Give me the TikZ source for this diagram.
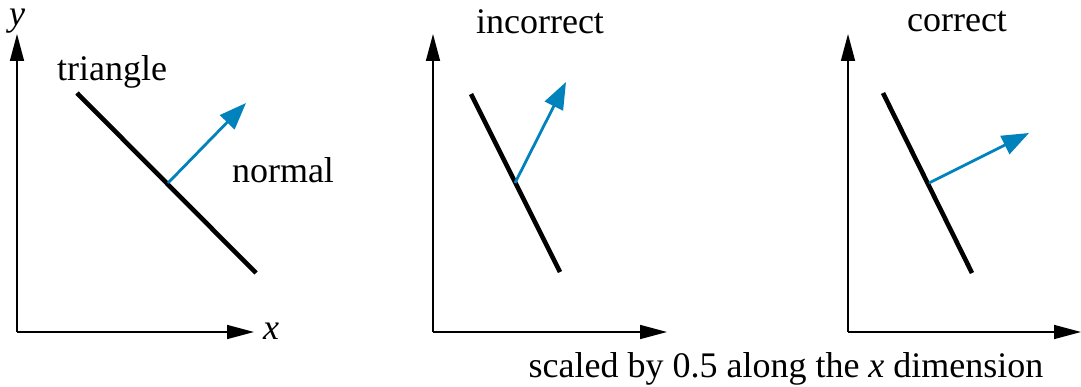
\documentclass[tikz,border=0pt]{standalone}
\usepackage{fontspec}
\setmainfont{Liberation Serif}
\usetikzlibrary{arrows.meta}
\definecolor{nblue}{RGB}{0,130,188}
\tikzset{
  axis/.style={line width=1.6pt,-{Triangle[length=27pt,width=14pt]}},
  tri/.style={line width=4.6pt},
  nrm/.style={line width=2.8pt,nblue,-{Triangle[length=27pt,width=20pt]}},
  lbl/.style={inner sep=0pt,font=\fontsize{36}{42}\selectfont}
}
\begin{document}
\begin{tikzpicture}[x=1pt,y=-1pt]
\useasboundingbox (0,0) rectangle (1081,387);
% panel 1
\coordinate (o1) at (17,332);
\coordinate (y1) at (17,34);
\coordinate (x1) at (254,332);
\draw[axis] (o1) -- (y1);
\draw[axis] (o1) -- (x1);
\coordinate (ta1) at (77,93);
\coordinate (tb1) at (256,273);
\draw[tri] (ta1) -- (tb1);
\coordinate (n1s) at (168,183);
\coordinate (n1e) at (246,103);
\draw[nrm] (n1s) -- (n1e);
\node[lbl] (ylab) at (17,21) {\itshape y};
\node[lbl] (xlab) at (271,331) {\itshape x};
\node[lbl] (tlab) at (112,72) {triangle};
\node[lbl] (nlab) at (283,170) {normal};
% panel 2
\coordinate (o2) at (433,332);
\coordinate (y2) at (433,34);
\coordinate (x2) at (667,332);
\draw[axis] (o2) -- (y2);
\draw[axis] (o2) -- (x2);
\coordinate (ta2) at (471,94);
\coordinate (tb2) at (560,272);
\draw[tri] (ta2) -- (tb2);
\coordinate (n2s) at (515,183);
\coordinate (n2e) at (566,82);
\draw[nrm] (n2s) -- (n2e);
\node[lbl] (ilab) at (540,22) {incorrect};
% panel 3
\coordinate (o3) at (848,332);
\coordinate (y3) at (848,34);
\coordinate (x3) at (1081,332);
\draw[axis] (o3) -- (y3);
\draw[axis] (o3) -- (x3);
\coordinate (ta3) at (883,93);
\coordinate (tb3) at (972,273);
\draw[tri] (ta3) -- (tb3);
\coordinate (n3s) at (929,183);
\coordinate (n3e) at (1029,133);
\draw[nrm] (n3s) -- (n3e);
\node[lbl] (clab) at (957,22) {correct};
\node[lbl] (slab) at (786,369) {scaled by 0.5 along the \textit{x} dimension};
\end{tikzpicture}
\end{document}
